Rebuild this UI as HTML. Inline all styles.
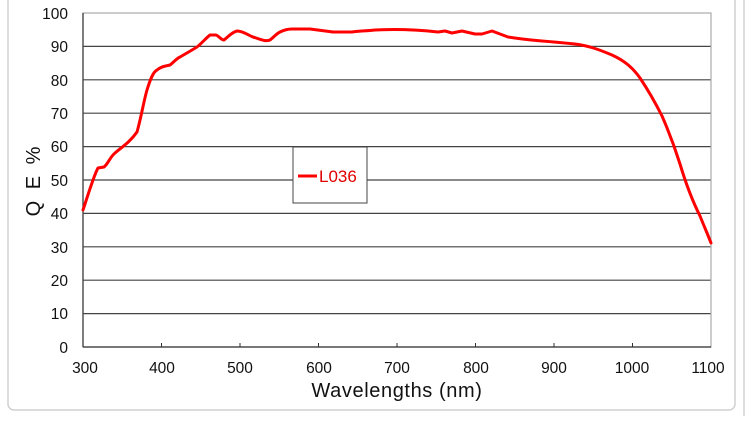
<!DOCTYPE html>
<html><head><style>
body{margin:0;background:#fff;width:750px;height:416px;overflow:hidden;font-family:"Liberation Sans",Arial,sans-serif;}
</style></head><body>
<svg width="750" height="416" xmlns="http://www.w3.org/2000/svg" font-family="Liberation Sans, Arial, sans-serif">
<rect x="8" y="-10" width="727" height="420" rx="6" fill="#fff" stroke="#d0d0d0" stroke-width="1.5"/>
<line x1="744" y1="0" x2="744" y2="416" stroke="#ddd" stroke-width="2"/>
<g stroke="#444" stroke-width="1.2">
<line x1="83" y1="46.4" x2="711" y2="46.4"/>
<line x1="83" y1="79.8" x2="711" y2="79.8"/>
<line x1="83" y1="113.2" x2="711" y2="113.2"/>
<line x1="83" y1="146.6" x2="711" y2="146.6"/>
<line x1="83" y1="180" x2="711" y2="180"/>
<line x1="83" y1="213.4" x2="711" y2="213.4"/>
<line x1="83" y1="246.8" x2="711" y2="246.8"/>
<line x1="83" y1="280.2" x2="711" y2="280.2"/>
<line x1="83" y1="313.6" x2="711" y2="313.6"/>
</g>
<rect x="83" y="13" width="628" height="334" fill="none" stroke="#aaa" stroke-width="1.2"/>
<line x1="83" y1="347" x2="711" y2="347" stroke="#333" stroke-width="1.2"/>
<line x1="83" y1="13" x2="83" y2="347" stroke="#333" stroke-width="1.2"/>
<g stroke="#333" stroke-width="1">
<line x1="161.5" y1="343" x2="161.5" y2="347"/><line x1="240" y1="343" x2="240" y2="347"/><line x1="318.5" y1="343" x2="318.5" y2="347"/><line x1="397" y1="343" x2="397" y2="347"/><line x1="475.5" y1="343" x2="475.5" y2="347"/><line x1="554" y1="343" x2="554" y2="347"/><line x1="632.5" y1="343" x2="632.5" y2="347"/>
</g>
<g font-size="15.5" fill="#111" text-anchor="end">
<text x="68" y="19">100</text><text x="68" y="52">90</text><text x="68" y="86">80</text><text x="68" y="119">70</text><text x="68" y="152">60</text><text x="68" y="186">50</text><text x="68" y="219">40</text><text x="68" y="253">30</text><text x="68" y="286">20</text><text x="68" y="319">10</text><text x="68" y="353">0</text>
</g>
<g font-size="15.5" fill="#111" text-anchor="middle">
<text x="85" y="373">300</text><text x="162" y="373">400</text><text x="240" y="373">500</text><text x="319" y="373">600</text><text x="397" y="373">700</text><text x="476" y="373">800</text><text x="554" y="373">900</text><text x="632" y="373">1000</text><text x="708" y="373">1100</text>
</g>
<text x="397" y="397" font-size="20" fill="#111" text-anchor="middle" letter-spacing="0.6">Wavelengths (nm)</text>
<text transform="translate(40,180) rotate(-90)" font-size="20" fill="#111" text-anchor="middle" letter-spacing="3">Q E  %</text>
<path d="M83,210 C88,195 94,175 98,168 L104,167 C108,164 110,157 115,153 C122,147 130,142 137,132 C141,118 144,100 147,90 C150,80 153,72 157,70 C162,66 166,66 170,65 C174,62 176,59 180,57 C187,53 192,50 197,47 C202,43 206,38 210,35 L216,35 C219,36 221,40 224,40 C228,37 232,32 237,31 C243,31 248,35 253,37 C260,39 265,42 270,40 C274,37 276,34 280,32 C284,30 287,29 292,29 L310,29 C318,30 325,31 333,32 C340,32 345,32 352,32 C360,31 365,31 375,30 C395,29 420,30 438,32 L445,31 L452,33 L462,31 L475,34 L482,34 L492,31 L500,34 L508,37 C520,39 530,40 542,41 C555,42 565,43 575,44 C590,46 600,50 612,55 C625,61 633,68 640,78 C648,90 655,102 662,116 C669,132 675,148 680,164 C686,184 692,200 700,216 C704,226 708,235 711,243" fill="none" stroke="#ff0000" stroke-width="3" stroke-linejoin="round" stroke-linecap="round"/>
<rect x="293" y="147" width="74" height="56" fill="#fff" stroke="#444" stroke-width="1"/>
<line x1="298" y1="176" x2="317" y2="176" stroke="#ff0000" stroke-width="3"/>
<text x="319" y="182" font-size="17" fill="#e00000">L036</text>
</svg>
</body></html>
